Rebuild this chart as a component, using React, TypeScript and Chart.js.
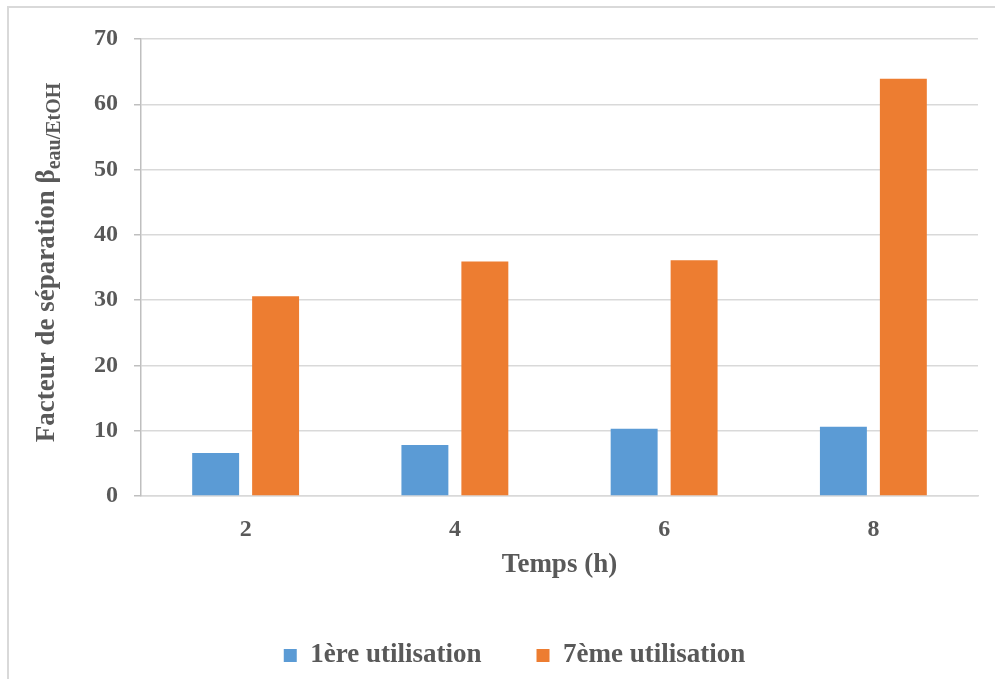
import React, { useEffect, useRef } from 'react';
import { Chart, registerables } from 'chart.js';

Chart.register(...registerables);

const categories = ['2', '4', '6', '8'];
const firstUse = [6.6, 7.8, 10.3, 10.6];
const seventhUse = [30.6, 35.9, 36.1, 63.9];
const seriesLabels = ['1ère utilisation', '7ème utilisation'];
const seriesColors = ['#5B9BD5', '#ED7D31'];
const yTitleMain = 'Facteur de séparation β';
const yTitleSub = 'eau/EtOH';
const xTitle = 'Temps (h)';
const yMin = 0;
const yMax = 70;
const yStep = 10;

const FONT = "'Liberation Serif', 'Times New Roman', serif";
const TEXT = '#595959';
const GRID = '#d9d9d9';
const AXIS = '#bfbfbf';

const yTitlePlugin = {
  id: 'yTitleWithSubscript',
  afterDraw(chart: any) {
    const ctx = chart.ctx as CanvasRenderingContext2D;
    const mainFont = `bold 27px ${FONT}`;
    const subFont = `bold 20px ${FONT}`;
    ctx.save();
    ctx.font = mainFont;
    const w1 = ctx.measureText(yTitleMain).width;
    ctx.font = subFont;
    const w2 = ctx.measureText(yTitleSub).width;
    const total = w1 + w2;
    const cy = (chart.chartArea.top + chart.chartArea.bottom) / 2 - 5;
    ctx.translate(45, cy);
    ctx.rotate(-Math.PI / 2);
    ctx.fillStyle = TEXT;
    ctx.textAlign = 'left';
    ctx.textBaseline = 'alphabetic';
    ctx.font = mainFont;
    ctx.fillText(yTitleMain, -total / 2, 0);
    ctx.font = subFont;
    ctx.fillText(yTitleSub, -total / 2 + w1, 6);
    ctx.restore();
  },
};

export default function App() {
  const ref = useRef<HTMLCanvasElement | null>(null);

  useEffect(() => {
    if (!ref.current) return;
    const chart = new Chart(ref.current, {
      type: 'bar',
      data: {
        labels: categories,
        datasets: [
          {
            label: seriesLabels[0],
            data: firstUse,
            backgroundColor: seriesColors[0],
            borderWidth: 0,
            categoryPercentage: 0.573,
            barPercentage: 0.783,
          },
          {
            label: seriesLabels[1],
            data: seventhUse,
            backgroundColor: seriesColors[1],
            borderWidth: 0,
            categoryPercentage: 0.573,
            barPercentage: 0.783,
          },
        ],
      },
      options: {
        responsive: false,
        animation: false,
        layout: { padding: { left: 42, right: 17, top: 31, bottom: 0 } },
        plugins: {
          legend: {
            position: 'bottom',
            labels: {
              color: TEXT,
              font: { family: FONT, size: 27, weight: 'bold' },
              boxWidth: 13,
              boxHeight: 13,
              padding: 55,
            },
          },
          tooltip: { enabled: false },
          title: { display: false },
        },
        scales: {
          x: {
            grid: { display: false, drawTicks: false },
            border: { display: true, color: GRID, width: 1.5 },
            ticks: {
              color: TEXT,
              font: { family: FONT, size: 24, weight: 'bold' },
              padding: 19,
            },
            title: {
              display: true,
              text: xTitle,
              color: TEXT,
              font: { family: FONT, size: 27, weight: 'bold' },
              padding: { top: 0, bottom: 6 },
            },
            afterFit: (scale: any) => {
              scale.height = 91;
            },
          },
          y: {
            min: yMin,
            max: yMax,
            ticks: {
              stepSize: yStep,
              color: TEXT,
              font: { family: FONT, size: 24, weight: 'bold' },
              padding: 16,
            },
            grid: {
              color: GRID,
              lineWidth: 1.5,
              drawTicks: true,
              tickLength: 7,
              tickColor: AXIS,
            },
            border: { display: true, color: AXIS, width: 1.5 },
            afterFit: (scale: any) => {
              scale.width = 90;
            },
          },
        },
      },
      plugins: [yTitlePlugin],
    });
    return () => chart.destroy();
  }, []);

  return (
    <div
      style={{
        position: 'absolute',
        left: 7,
        top: 6,
        width: 988,
        height: 673,
        borderTop: `2px solid ${GRID}`,
        borderLeft: `2px solid ${GRID}`,
        boxSizing: 'border-box',
        background: '#fff',
      }}
    >
      <canvas ref={ref} width={986} height={671} style={{ display: 'block' }} />
    </div>
  );
}
